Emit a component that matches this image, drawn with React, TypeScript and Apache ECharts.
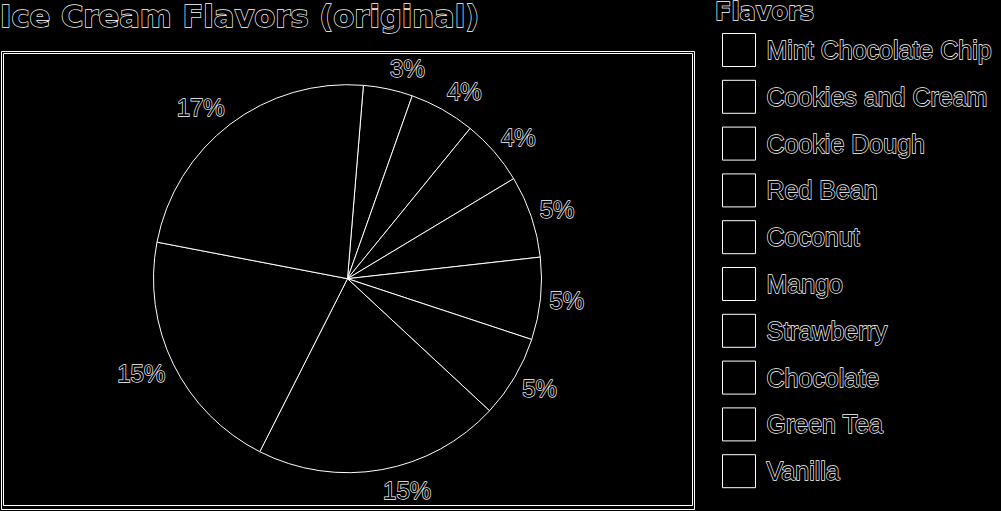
import React, { useEffect, useRef } from "react";
import * as echarts from "echarts";

const flavors = [
  "Mint Chocolate Chip",
  "Cookies and Cream",
  "Cookie Dough",
  "Red Bean",
  "Coconut",
  "Mango",
  "Strawberry",
  "Chocolate",
  "Green Tea",
  "Vanilla",
];
// percentage shares as labelled; Vanilla has no drawn slice in the original
const shares: (number | string)[] = [3, 4, 4, 5, 5, 5, 15, 15, 17, "-"];

const titleText = "Ice Cream Flavors (original)";
const legendTitle = "Flavors";

export default function App() {
  const ref = useRef<HTMLDivElement>(null);
  useEffect(() => {
    document.body.style.margin = "0";
    document.body.style.background = "#000";
    const chart = echarts.init(ref.current!, null, { renderer: "svg" });
    const data = flavors.map((n, i) => ({ name: n, value: shares[i] }));
    const outline = { color: "#000", textBorderColor: "#fff", textBorderWidth: 1.3 };
    const cx = 347.5;
    const cy = 278.7;
    const radius = 194;
    const startAngle = 85.3;
    // label placement: outside, on a slightly elongated ring around the pie
    const labelRx = 203;
    const labelRy = 215;
    const nums = shares.map((v) => (typeof v === "number" ? v : 0));
    const total = nums.reduce((a, b) => a + b, 0);
    const midAngle = (idx: number) => {
      let before = 0;
      for (let k = 0; k < idx; k++) before += nums[k];
      const deg = 90 - startAngle + ((before + nums[idx] / 2) / total) * 360;
      return (deg * Math.PI) / 180;
    };
    chart.setOption({
      animation: false,
      backgroundColor: "#000",
      title: [
        {
          text: titleText,
          left: 0,
          top: 1,
          padding: 0,
          textStyle: {
            ...outline,
            fontFamily: "DejaVu Sans",
            fontWeight: "bold",
            fontSize: 30.6,
          },
        },
        {
          text: legendTitle,
          left: 715,
          top: 0,
          padding: 0,
          textStyle: {
            ...outline,
            fontFamily: "DejaVu Sans",
            fontWeight: "bold",
            fontSize: 24,
          },
        },
      ],
      legend: {
        data: flavors,
        orient: "vertical",
        left: 722,
        top: 33,
        padding: 0,
        itemWidth: 33,
        itemHeight: 33,
        itemGap: 12.8,
        icon: "rect",
        selectedMode: false,
        itemStyle: { color: "#000", borderColor: "#fff", borderWidth: 1 },
        textStyle: {
          ...outline,
          fontFamily: "Liberation Sans",
          fontSize: 25,
          padding: [0, 0, 0, 6],
        },
      },
      graphic: [
        {
          type: "rect",
          shape: { x: 1.5, y: 51.5, width: 693, height: 458 },
          style: { fill: "none", stroke: "#fff", lineWidth: 1 },
          silent: true,
        },
        {
          type: "rect",
          shape: { x: 3.5, y: 53.5, width: 689, height: 452 },
          style: { fill: "none", stroke: "#fff", lineWidth: 1 },
          silent: true,
        },
      ],
      series: [
        {
          type: "pie",
          center: [cx, cy],
          radius,
          startAngle,
          clockwise: true,
          silent: true,
          avoidLabelOverlap: false,
          emphasis: { disabled: true },
          itemStyle: { color: "#000", borderColor: "#fff", borderWidth: 1 },
          labelLine: { show: false },
          label: {
            show: true,
            position: "outside",
            formatter: (p: any) => p.value + "%",
            ...outline,
            fontFamily: "Liberation Sans",
            fontSize: 24,
          },
          labelLayout: (p: any) => {
            const a = midAngle(p.dataIndex);
            const s = Math.sin(a);
            return {
              x: cx + labelRx * s,
              y: cy - labelRy * Math.cos(a),
              align: s >= 0 ? "left" : "right",
              verticalAlign: "middle",
            };
          },
          data,
        },
      ],
    });
    return () => chart.dispose();
  }, []);
  return (
    <div
      ref={ref}
      style={{ position: "fixed", left: 0, top: 0, width: 1001, height: 511 }}
    />
  );
}
